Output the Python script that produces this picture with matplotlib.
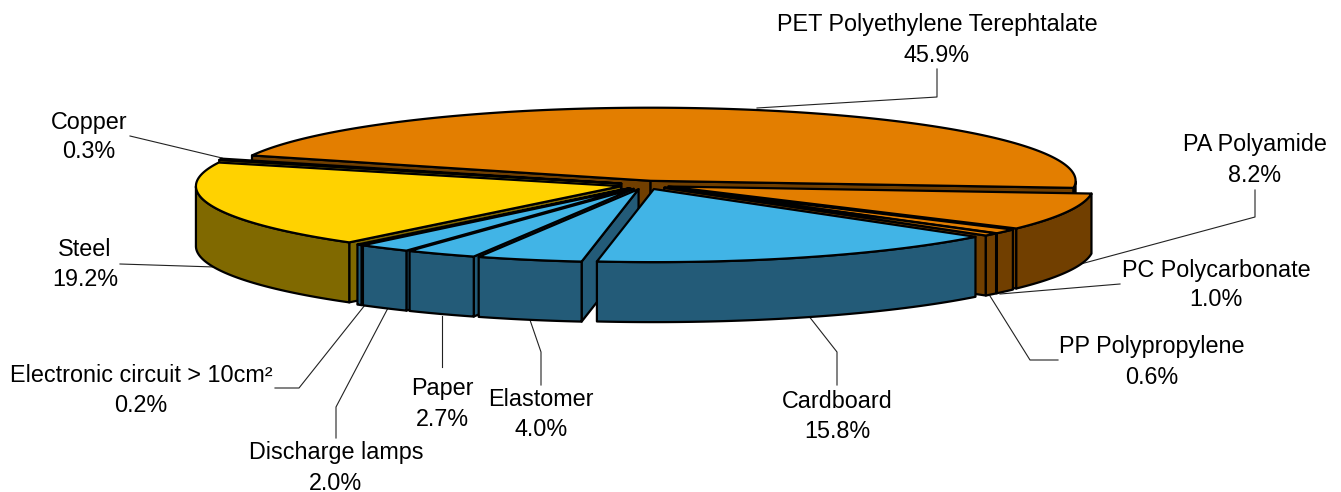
# -*- coding: utf-8 -*-
import numpy as np
import matplotlib
matplotlib.use('Agg')
import matplotlib.pyplot as plt
from matplotlib.patches import Polygon

plt.rcParams['font.family'] = ['Liberation Sans', 'DejaVu Sans']

# clockwise, starting with PET
names = ['PET Polyethylene Terephtalate', 'PA Polyamide', 'PC Polycarbonate',
         'PP Polypropylene', 'Cardboard', 'Elastomer', 'Paper', 'Discharge lamps',
         'Electronic circuit > 10cm²', 'Steel', 'Copper']
values = [45.9, 8.2, 1.0, 0.6, 15.8, 4.0, 2.7, 2.0, 0.2, 19.2, 0.3]
groups = ['plastic', 'plastic', 'plastic', 'plastic', 'blue', 'blue', 'blue', 'blue',
          'blue', 'metal', 'metal']

topColors = {'plastic': '#E37E00', 'blue': '#41B4E6', 'metal': '#FFD200'}
sideColors = {'plastic': '#713F00', 'blue': '#235B78', 'metal': '#806900'}

# back to front, index into the lists above
drawOrder = [0, 10, 9, 8, 7, 6, 5, 1, 2, 3, 4]

# pie geometry, in pixels
CX, CY = 645, 185
R = 425
SQUASH = 0.172
DEPTH = 60
EXPLODE = 25
START = 159.7

# label centre x, first line y, leader line
labelPos = {
    0: (937, 25, [(757, 108), (937, 97), (937, 69)]),
    1: (1255, 145, [(1077, 265), (1255, 217), (1255, 190)]),
    2: (1216, 270, [(1000, 294), (1120, 284)]),
    3: (1152, 347, [(990, 296), (1030, 360), (1058, 360)]),
    4: (837, 401, [(808, 315), (837, 352), (837, 385)]),
    5: (541, 399, [(530, 320), (541, 352), (541, 385)]),
    6: (442, 389, [(442, 316), (442, 367)]),
    7: (336, 453, [(388, 308), (336, 407), (336, 438)]),
    8: (141, 375, [(365, 305), (299, 388), (275, 388)]),
    9: (85, 250, [(215, 267), (120, 264)]),
    10: (89, 122, [(222, 158), (130, 136)]),
}


def project(theta, radius, mid):
    # plan position of a slice point -> picture pixels
    x = EXPLODE * np.cos(mid) + radius * np.cos(theta)
    y = EXPLODE * np.sin(mid) + radius * np.sin(theta)
    return CX + x, CY - SQUASH * y


def face(ax, pts, color, z):
    ax.add_patch(Polygon(pts, closed=True, facecolor=color, edgecolor='black',
                         linewidth=1.6, joinstyle='round', zorder=z))


def DrawSlice(ax, i, t0, t1, z):
    # t0 is the counter-clockwise end, t1 the clockwise end
    mid = (t0 + t1) / 2
    top = topColors[groups[i]]
    side = sideColors[groups[i]]
    tipX, tipY = project(mid, 0, mid)

    # radial walls, only the ones facing the viewer
    for t, visible in ((t0, np.cos(t0) < 0), (t1, np.cos(t1) > 0)):
        if visible:
            ex, ey = project(t, R, mid)
            face(ax, [(tipX, tipY), (ex, ey), (ex, ey + DEPTH), (tipX, tipY + DEPTH)], side, z)

    # outer wall, front half of the rim only
    ts = np.linspace(t0, t1, 200)
    ts = ts[np.sin(ts) <= 0]
    if len(ts) > 1:
        xs, ys = project(ts, R, mid)
        pts = list(zip(xs, ys)) + list(zip(xs[::-1], ys[::-1] + DEPTH))
        face(ax, pts, side, z + 0.1)

    # top
    ts = np.linspace(t0, t1, 200)
    xs, ys = project(ts, R, mid)
    face(ax, [(tipX, tipY)] + list(zip(xs, ys)), top, z + 0.2)


fig = plt.figure(figsize=(13.41, 4.92), dpi=100)
ax = fig.add_axes([0, 0, 1, 1])
ax.set_xlim(0, 1341)
ax.set_ylim(492, 0)
ax.axis('off')

angles = np.radians(START - np.cumsum([0] + values) * 3.6)
for z, i in enumerate(drawOrder):
    DrawSlice(ax, i, angles[i], angles[i + 1], 2 + z)

for i in range(len(names)):
    cx, ty, leader = labelPos[i]
    ax.plot([p[0] for p in leader], [p[1] for p in leader], color='#222222', lw=0.8, zorder=1)
    ax.text(cx, ty, names[i], ha='center', va='center', fontsize=16.8, color='black')
    ax.text(cx, ty + 30, '%.1f%%' % values[i], ha='center', va='center',
            fontsize=16.8, color='black')

fig.savefig('out.png', dpi=100)
